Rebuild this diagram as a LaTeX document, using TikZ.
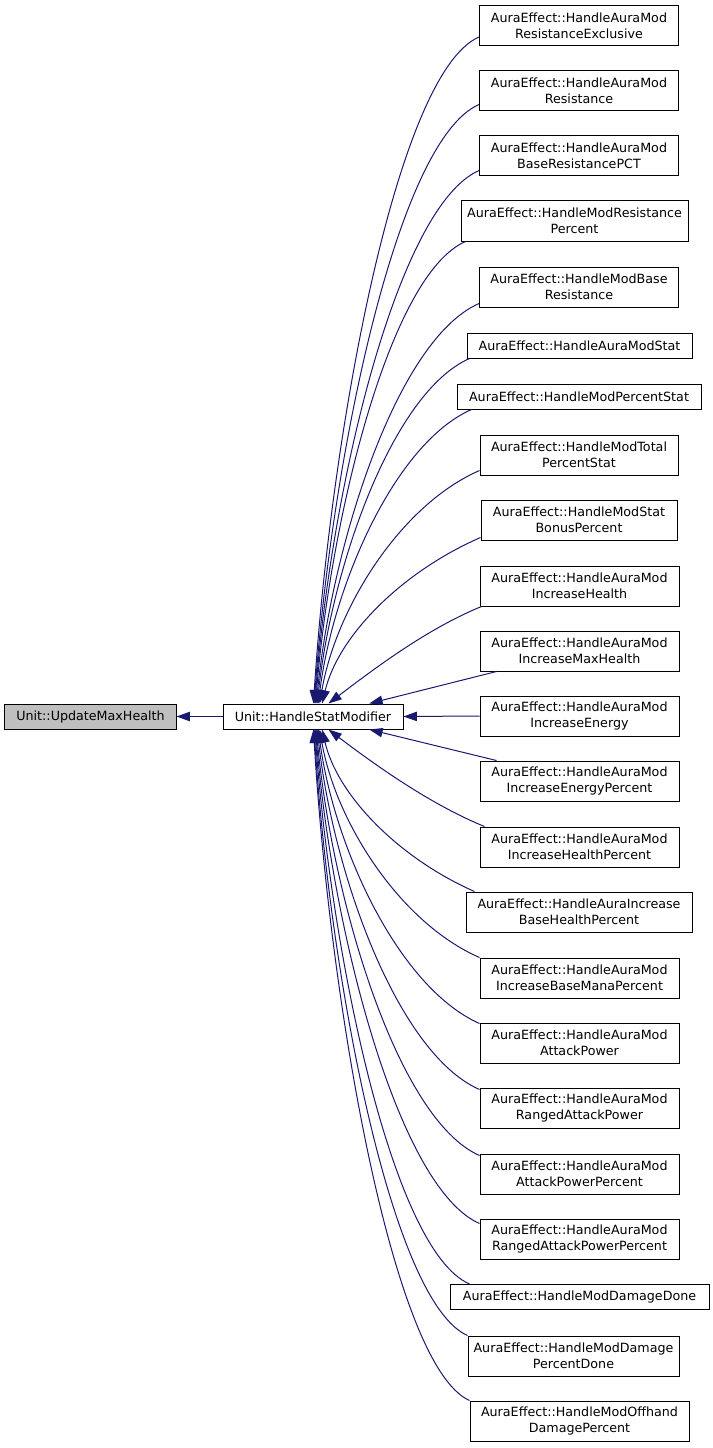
\documentclass[tikz,border=0pt]{standalone}
\usepackage{fontspec}
\setmainfont{DejaVu Sans}
\usetikzlibrary{arrows.meta}
\definecolor{callblue}{HTML}{191970}
\definecolor{rootgray}{HTML}{BFBFBF}
\begin{document}
\begin{tikzpicture}[x=1bp,y=-1bp,
    fn/.style={draw,line width=1bp,fill=white,inner xsep=3bp,inner ysep=2bp,
      minimum width=199bp,minimum height=25bp,align=center,
      font=\fontsize{12.74}{15.65}\selectfont},
    fn2/.style={fn,minimum height=40bp},
    calls/.style={draw=callblue,line width=1bp,{Triangle[length=13.3bp,width=9.3bp]}-}]
    \useasboundingbox (0,0) rectangle (713,1448);
    \node[fn,fill=rootgray,minimum width=171bp] (umh) at (90.5,716.5) {Unit::UpdateMaxHealth};
    \node[fn,minimum width=180bp] (hsm) at (313,716.5) {Unit::HandleStatModifier};
    \node[fn2] (modResExcl) at (579,25.5) {AuraEffect::HandleAuraMod\\ResistanceExclusive};
    \node[fn2] (modRes) at (579,91) {AuraEffect::HandleAuraMod\\Resistance};
    \node[fn2] (modBaseResPct) at (579,156) {AuraEffect::HandleAuraMod\\BaseResistancePCT};
    \node[fn2,minimum width=227bp] (modResPct) at (574.5,221) {AuraEffect::HandleModResistance\\Percent};
    \node[fn2] (modBaseRes) at (579,287) {AuraEffect::HandleModBase\\Resistance};
    \node[fn,minimum width=225bp] (modStat) at (579.5,345.5) {AuraEffect::HandleAuraModStat};
    \node[fn,minimum width=244bp] (modPctStat) at (579,396.5) {AuraEffect::HandleModPercentStat};
    \node[fn2,minimum width=198bp] (modTotPctStat) at (579,455) {AuraEffect::HandleModTotal\\PercentStat};
    \node[fn2,minimum width=196bp] (modStatBonusPct) at (579,520) {AuraEffect::HandleModStat\\BonusPercent};
    \node[fn2] (incHealth) at (579.5,586) {AuraEffect::HandleAuraMod\\IncreaseHealth};
    \node[fn2] (incMaxHealth) at (579.5,651) {AuraEffect::HandleAuraMod\\IncreaseMaxHealth};
    \node[fn2] (incEnergy) at (579.5,716) {AuraEffect::HandleAuraMod\\IncreaseEnergy};
    \node[fn2] (incEnergyPct) at (579.5,781) {AuraEffect::HandleAuraMod\\IncreaseEnergyPercent};
    \node[fn2] (incHealthPct) at (579.5,847) {AuraEffect::HandleAuraMod\\IncreaseHealthPercent};
    \node[fn2,minimum width=226bp] (incBaseHealthPct) at (579,912) {AuraEffect::HandleAuraIncrease\\BaseHealthPercent};
    \node[fn2] (incBaseManaPct) at (579.5,978) {AuraEffect::HandleAuraMod\\IncreaseBaseManaPercent};
    \node[fn2] (atkPow) at (579.5,1043) {AuraEffect::HandleAuraMod\\AttackPower};
    \node[fn2] (rngAtkPow) at (579.5,1108) {AuraEffect::HandleAuraMod\\RangedAttackPower};
    \node[fn2] (atkPowPct) at (579.5,1174) {AuraEffect::HandleAuraMod\\AttackPowerPercent};
    \node[fn2] (rngAtkPowPct) at (579.5,1239) {AuraEffect::HandleAuraMod\\RangedAttackPowerPercent};
    \node[fn,minimum width=259bp] (dmgDone) at (579.5,1297) {AuraEffect::HandleModDamageDone};
    \node[fn2,minimum width=211bp] (dmgPctDone) at (573.5,1356) {AuraEffect::HandleModDamage\\PercentDone};
    \node[fn2,minimum width=219bp] (offhandDmgPct) at (579.5,1421) {AuraEffect::HandleModOffhand\\DamagePercent};
    \draw[calls] (umh.east) -- (hsm.west);
    \draw[calls] (hsm.88) .. controls +(17,-267) and +(-83,36) .. ([yshift=9bp]modResExcl.south west);
    \draw[calls] (hsm.85) .. controls +(17,-240) and +(-83,36) .. ([yshift=7bp]modRes.south west);
    \draw[calls] (hsm.82) .. controls +(16,-214) and +(-82,36) .. ([yshift=6bp]modBaseResPct.south west);
    \draw[calls] (hsm.79) .. controls +(15,-185) and +(-76,33) .. ([xshift=5bp]modResPct.south west);
    \draw[calls] (hsm.76) .. controls +(16,-160) and +(-82,36) .. ([yshift=4bp]modBaseRes.south west);
    \draw[calls] (hsm.72) .. controls +(15,-138) and +(-77,34) .. ([xshift=3bp]modStat.south west);
    \draw[calls] (hsm.68) .. controls +(15,-118) and +(-77,34) .. ([xshift=15bp]modPctStat.south west);
    \draw[calls] (hsm.63) .. controls +(16,-94) and +(-80,35) .. ([yshift=5bp]modTotPctStat.south west);
    \draw[calls] (hsm.55) .. controls +(16,-67) and +(-80,35) .. ([yshift=3bp]modStatBonusPct.south west);
    \draw[calls] (hsm.40) .. controls +(46,-35) and +(-54,22) .. ([xshift=2bp]incHealth.south west);
    \draw[calls] (hsm.13) -- ([xshift=17bp]incMaxHealth.south west);
    \draw[calls] (hsm.east) -- (incEnergy.west);
    \draw[calls] (hsm.-13) -- ([xshift=17bp]incEnergyPct.north west);
    \draw[calls] (hsm.-40) .. controls +(46,35) and +(-54,-22) .. ([xshift=5bp]incHealthPct.north west);
    \draw[calls] (hsm.-55) .. controls +(15,65) and +(-77,-34) .. ([xshift=9bp]incBaseHealthPct.north west);
    \draw[calls] (hsm.-63) .. controls +(16,92) and +(-80,-35) .. (incBaseManaPct.north west);
    \draw[calls] (hsm.-68) .. controls +(16,118) and +(-81,-36) .. ([yshift=-1bp]atkPow.north west);
    \draw[calls] (hsm.-72) .. controls +(16,144) and +(-82,-36) .. ([yshift=-2bp]rngAtkPow.north west);
    \draw[calls] (hsm.-76) .. controls +(16,171) and +(-82,-36) .. ([yshift=-2bp]atkPowPct.north west);
    \draw[calls] (hsm.-79) .. controls +(16,198) and +(-82,-36) .. ([yshift=-5bp]rngAtkPowPct.north west);
    \draw[calls] (hsm.-82) .. controls +(16,222) and +(-78,-34) .. ([xshift=20bp]dmgDone.north west);
    \draw[calls] (hsm.-85) .. controls +(15,243) and +(-77,-34) .. (dmgPctDone.north west);
    \draw[calls] (hsm.-88) .. controls +(16,269) and +(-78,-35) .. (offhandDmgPct.north west);
\end{tikzpicture}
\end{document}
